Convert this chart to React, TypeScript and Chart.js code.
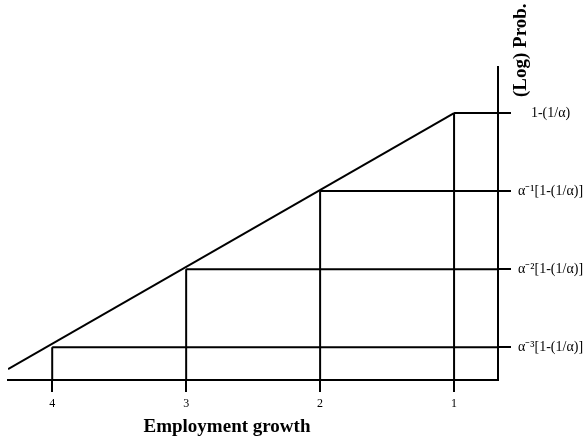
import React, { useEffect, useRef } from 'react';
import { Chart, registerables } from 'chart.js';

Chart.register(...registerables);

// ---- Data ----
const growthSteps = [1, 2, 3, 4];
const logProbLevels = [0, -1, -2, -3];
const levelLabels = ['1-(1/α)', 'α⁻¹[1-(1/α)]', 'α⁻²[1-(1/α)]', 'α⁻³[1-(1/α)]'];
const diagonalStart = { x: 4.33, y: -3.28 };
const xRange = { min: 0.672, max: 4.33 };
const yRange = { min: -3.42, max: 0.59 };
const xTitle = 'Employment growth';
const yTitle = '(Log) Prob.';

const SERIF = '"Liberation Serif", "Times New Roman", serif';

const titlePlugin = {
  id: 'diagramTitles',
  afterDraw(chart: any) {
    const ctx = chart.ctx;
    ctx.save();
    ctx.fillStyle = '#000';
    ctx.font = `bold 19px ${SERIF}`;
    ctx.textAlign = 'center';
    ctx.textBaseline = 'alphabetic';
    ctx.fillText(xTitle, 227, 432);
    ctx.translate(526, 97);
    ctx.rotate(-Math.PI / 2);
    ctx.textAlign = 'left';
    ctx.fillText(yTitle, 0, 0);
    ctx.restore();
  },
};

export default function App() {
  const canvasRef = useRef<HTMLCanvasElement | null>(null);

  useEffect(() => {
    document.body.style.margin = '0';
    const canvas = canvasRef.current;
    if (!canvas) return;

    const lineStyle = {
      borderColor: '#000',
      borderWidth: 2,
      pointRadius: 0,
      showLine: true,
      fill: false,
      tension: 0,
    };

    const datasets: any[] = [];
    datasets.push({
      ...lineStyle,
      label: 'diagonal',
      data: [diagonalStart, { x: growthSteps[0], y: logProbLevels[0] }],
    });
    growthSteps.forEach((s, i) => {
      const level = logProbLevels[i];
      datasets.push({
        ...lineStyle,
        label: `v${s}`,
        data: [
          { x: s, y: yRange.min },
          { x: s, y: level },
        ],
      });
      datasets.push({
        ...lineStyle,
        label: `h${s}`,
        data: [
          { x: s, y: level },
          { x: xRange.min, y: level },
        ],
      });
    });

    const chart = new Chart(canvas, {
      type: 'scatter',
      data: { datasets },
      options: {
        responsive: false,
        animation: false,
        layout: { padding: { left: 8, top: 67, right: 0, bottom: 0 } },
        plugins: {
          legend: { display: false },
          tooltip: { enabled: false },
        },
        scales: {
          x: {
            type: 'linear',
            position: 'bottom',
            reverse: true,
            min: xRange.min,
            max: xRange.max,
            afterBuildTicks: (s: any) => {
              s.ticks = growthSteps.map((v) => ({ value: v }));
            },
            afterFit: (s: any) => {
              s.height = 68;
            },
            ticks: {
              callback: (v: any) => String(v),
              font: { family: SERIF, size: 12 },
              color: '#000',
              padding: 5,
              maxRotation: 0,
              autoSkip: false,
            },
            grid: {
              drawOnChartArea: false,
              drawTicks: true,
              tickLength: 12,
              color: '#000',
              lineWidth: 2,
            },
            border: { display: true, color: '#000', width: 2 },
          },
          y: {
            type: 'linear',
            position: 'right',
            min: yRange.min,
            max: yRange.max,
            afterBuildTicks: (s: any) => {
              s.ticks = logProbLevels.map((v) => ({ value: v }));
            },
            afterFit: (s: any) => {
              s.width = 88;
            },
            ticks: {
              callback: (v: any) => {
                const idx = logProbLevels.indexOf(Number(v));
                return idx >= 0 ? levelLabels[idx] : '';
              },
              font: { family: SERIF, size: 14 },
              color: '#000',
              padding: 7,
              crossAlign: 'center',
              autoSkip: false,
            },
            grid: {
              drawOnChartArea: false,
              drawTicks: true,
              tickLength: 13,
              color: '#000',
              lineWidth: 2,
            },
            border: { display: true, color: '#000', width: 2 },
          },
        },
      } as any,
      plugins: [titlePlugin],
    });

    return () => {
      chart.destroy();
    };
  }, []);

  return (
    <div style={{ width: 586, height: 448, background: '#fff' }}>
      <canvas ref={canvasRef} width={586} height={448} />
    </div>
  );
}
